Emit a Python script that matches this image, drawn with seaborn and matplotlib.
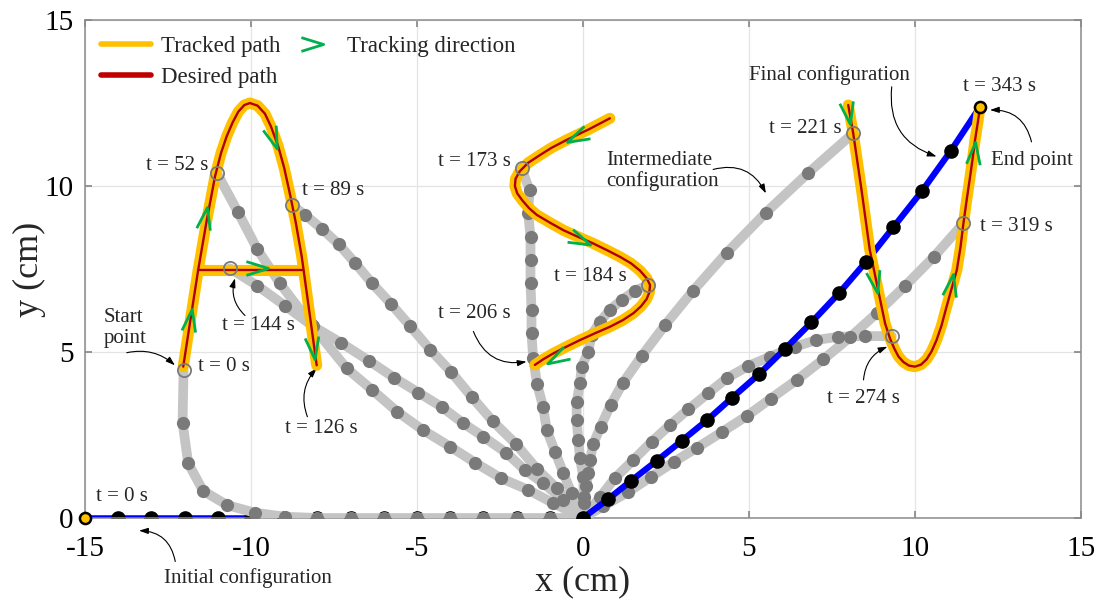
import matplotlib
matplotlib.use('Agg')
import matplotlib.pyplot as plt
import seaborn as sns
from matplotlib.path import Path
from matplotlib.markers import MarkerStyle
from matplotlib.transforms import Affine2D
from matplotlib.lines import Line2D

# ---------------- data (cm) ----------------
# Desired / tracked paths
A_X = [-12.04, -11.84, -11.59, -11.33, -11.08, -10.9, -10.73, -10.55, -10.38, -10.2, -10.03, -9.8, -9.58, -9.4, -9.18, -9.0, -8.83, -8.65, -8.47, -8.22, -8.02]
A_Y = [4.56, 5.86, 7.47, 8.98, 10.3, 11.0, 11.5, 11.92, 12.24, 12.44, 12.5, 12.42, 12.18, 11.8, 11.2, 10.55, 9.78, 8.9, 7.87, 6.06, 4.6]
BAR_X = [-11.59, -8.47]
BAR_Y = [7.47, 7.47]
S_X = [0.81, 0.2, -0.49, -0.95, -1.3, -1.65, -1.9, -2.03, -2.05, -1.98, -1.82, -1.62, -1.39, -1.0, -0.59, -0.15, 0.31, 0.72, 1.11, 1.45, 1.72, 1.92, 2.02, 2.0, 1.92, 1.75, 1.52, 1.2, 0.81, 0.35, -0.09, -0.5, -0.89, -1.2, -1.45]
S_Y = [12.04, 11.72, 11.39, 11.15, 10.93, 10.7, 10.45, 10.22, 10.0, 9.78, 9.56, 9.33, 9.13, 8.9, 8.67, 8.47, 8.27, 8.07, 7.87, 7.67, 7.45, 7.22, 7.02, 6.8, 6.6, 6.38, 6.17, 5.96, 5.76, 5.56, 5.36, 5.16, 4.96, 4.78, 4.61]
V_X = [7.99, 8.14, 8.39, 8.64, 8.89, 9.1, 9.25, 9.38, 9.5, 9.65, 9.82, 10.0, 10.18, 10.35, 10.5, 10.65, 10.8, 10.95, 11.1, 11.26, 11.37, 11.46, 11.56, 11.66, 11.74, 11.81, 11.89, 11.96]
V_Y = [12.44, 11.59, 9.88, 8.07, 6.87, 5.86, 5.4, 5.1, 4.87, 4.7, 4.59, 4.56, 4.62, 4.78, 5.02, 5.36, 5.8, 6.36, 6.9, 7.47, 8.15, 8.88, 9.6, 10.28, 10.85, 11.39, 11.9, 12.39]

# Robot configurations (tip first, base last)
INIT_X = [-15, -14, -13, -12, -11, -10, -9, -8, -7, -6, -5, -4, -3, -2, -1, 0]
INIT_Y = [0, 0, 0, 0, 0, 0, 0, 0, 0, 0, 0, 0, 0, 0, 0, 0]
FINAL_X = [11.96, 11.08, 10.22, 9.35, 8.51, 7.71, 6.88, 6.08, 5.3, 4.5, 3.74, 2.98, 2.23, 1.46, 0.76, 0]
FINAL_Y = [12.39, 11.06, 9.86, 8.76, 7.70, 6.77, 5.89, 5.09, 4.33, 3.63, 2.95, 2.33, 1.73, 1.13, 0.57, 0]

T0_X = [-12.03, -12.06, -11.89, -11.44, -10.72, -9.88, -8.98, -8.0, -7.0, -6.0, -5.0, -4.0, -3.0, -2.0, -1.0, 0.0]
T0_Y = [4.46, 2.87, 1.65, 0.82, 0.39, 0.16, 0.04, 0.0, 0.0, 0.0, 0.0, 0.0, 0.0, 0.0, 0.0, 0.0]
T52_X = [-11.03, -10.40, -9.81, -9.13, -8.17, -7.12, -6.35, -5.59, -4.82, -4.0, -3.25, -2.47, -1.65, -0.9, 0]
T52_Y = [10.40, 9.23, 8.10, 7.07, 5.81, 4.51, 3.86, 3.2, 2.65, 2.15, 1.67, 1.2, 0.85, 0.45, 0]
T89_X = [-8.77, -8.37, -7.85, -7.35, -6.87, -6.35, -5.78, -5.21, -4.6, -3.98, -3.35, -2.72, -2.02, -1.39, -0.79, 0]
T89_Y = [9.43, 9.13, 8.7, 8.24, 7.69, 7.07, 6.45, 5.79, 5.07, 4.41, 3.65, 2.92, 2.23, 1.48, 0.9, 0]
T144_X = [-10.63, -9.81, -8.98, -8.12, -7.29, -6.45, -5.69, -4.96, -4.26, -3.6, -3.0, -2.32, -1.75, -1.2, -0.59, 0]
T144_Y = [7.52, 7.0, 6.4, 5.77, 5.28, 4.74, 4.23, 3.78, 3.35, 2.85, 2.45, 1.97, 1.45, 1.05, 0.54, 0]
T173_X = [-1.85, -1.61, -1.65, -1.58, -1.58, -1.58, -1.55, -1.55, -1.5, -1.38, -1.2, -1.09, -0.84, -0.59, -0.34, 0]
T173_Y = [10.53, 9.88, 9.18, 8.47, 7.77, 7.07, 6.27, 5.56, 4.81, 4.03, 3.35, 2.65, 2.0, 1.35, 0.74, 0]
T184_X = [1.97, 1.57, 1.17, 0.81, 0.51, 0.26, 0.16, -0.04, -0.09, -0.19, -0.19, -0.14, -0.09, 0.01, 0.02, 0]
T184_Y = [7.02, 6.85, 6.57, 6.27, 5.91, 5.51, 5.01, 4.56, 4.06, 3.5, 2.95, 2.35, 1.8, 1.24, 0.62, 0]
T221_X = [8.14, 6.79, 5.51, 4.33, 3.32, 2.47, 1.77, 1.21, 0.83, 0.53, 0.31, 0.21, 0.16, 0.1, 0.03, 0]
T221_Y = [11.59, 10.4, 9.2, 7.99, 6.85, 5.81, 4.88, 4.08, 3.4, 2.75, 2.23, 1.75, 1.35, 0.95, 0.45, 0]
T274_X = [9.3, 8.49, 7.69, 7.02, 6.39, 5.63, 4.98, 4.33, 3.77, 3.17, 2.62, 2.07, 1.52, 0.96, 0.51, 0]
T274_Y = [5.48, 5.48, 5.46, 5.36, 5.16, 4.86, 4.58, 4.21, 3.76, 3.27, 2.8, 2.3, 1.75, 1.2, 0.62, 0]
T319_X = [11.46, 10.57, 9.7, 8.85, 8.04, 7.24, 6.44, 5.66, 4.93, 4.2, 3.44, 2.75, 2.05, 1.37, 0.6, 0]
T319_Y = [8.88, 7.87, 6.99, 6.17, 5.44, 4.78, 4.16, 3.6, 3.07, 2.6, 2.12, 1.7, 1.24, 0.79, 0.35, 0]

# tracking direction chevrons: x, y, angle (deg)
ARROW_X = [-11.85, -11.39, -9.33, -8.12, -9.83, -0.19, -0.09, -0.79, 7.99, 8.8, 11.1, 11.78]
ARROW_Y = [5.95, 9.03, 11.44, 5.11, 7.52, 11.49, 8.37, 4.81, 12.19, 7.12, 7.02, 10.99]
ARROW_ANG = [81, 80, -70, -82, 0, 206, -24, 209, -80, -78, 80, 84]

# ---------------- style ----------------
sns.set_theme(style='white')
plt.rcParams['font.family'] = ['Liberation Serif', 'DejaVu Serif']
plt.rcParams['axes.unicode_minus'] = False

YELLOW = '#ffc000'
RED = '#b00000'
GREEN = '#00b050'
GRAY_LINE = '#c4c4c4'
GRAY_DOT = '#7a7a7a'
BLUE = '#0000ff'

fig = plt.figure(figsize=(10.99, 6.02), dpi=100)
ax = fig.add_axes([0.0773, 0.1395, 0.9063, 0.8272])
ax.set_xlim(-15, 15)
ax.set_ylim(0, 15)
ax.set_xticks([-15, -10, -5, 0, 5, 10, 15])
ax.set_yticks([0, 5, 10, 15])
ax.grid(True, color='#e4e4e4', lw=0.9)
ax.set_axisbelow(True)
for s in ax.spines.values():
    s.set_color('#8a8a8a')
    s.set_linewidth(1.1)
ax.tick_params(direction='in', length=5, color='#8a8a8a', labelsize=21,
               labelcolor='black', top=True, right=True, pad=8,
               bottom=True, left=True)
ax.tick_params(axis='x', pad=13)
ax.set_xlabel('x (cm)', fontsize=26, labelpad=2)
ax.set_ylabel('y (cm)', fontsize=26, labelpad=-1)


def line(xs, ys, **kw):
    sns.lineplot(x=xs, y=ys, sort=False, estimator=None, ax=ax, legend=False, **kw)


# initial configuration (blue)
line(INIT_X, INIT_Y, color=BLUE, lw=4, zorder=2)
ax.plot(INIT_X[1:], INIT_Y[1:], 'o', ms=9.5, color='black', zorder=2.1)

# intermediate configurations (gray)
configs = [(T0_X, T0_Y), (T52_X, T52_Y), (T89_X, T89_Y), (T144_X, T144_Y),
           (T173_X, T173_Y), (T184_X, T184_Y), (T221_X, T221_Y),
           (T274_X, T274_Y), (T319_X, T319_Y)]
for xs, ys in configs:
    line(xs, ys, color=GRAY_LINE, lw=7, zorder=3, solid_capstyle='round')
    ax.plot(xs[1:], ys[1:], 'o', ms=9.5, color=GRAY_DOT, mec='none', zorder=3.2)
tips_x = [c[0][0] for c in configs]
tips_y = [c[1][0] for c in configs]

# final configuration (blue)
line(FINAL_X, FINAL_Y, color=BLUE, lw=4.5, zorder=4)

# paths
for xs, ys in [(A_X, A_Y), (BAR_X, BAR_Y), (S_X, S_Y), (V_X, V_Y)]:
    line(xs, ys, color=YELLOW, lw=8, zorder=5, solid_capstyle='round',
         solid_joinstyle='round')
for xs, ys in [(A_X, A_Y), (BAR_X, BAR_Y), (S_X, S_Y), (V_X, V_Y)]:
    line(xs, ys, color=RED, lw=1.7, zorder=5.5, solid_joinstyle='round')

ax.plot(FINAL_X[1:], FINAL_Y[1:], 'o', ms=9.5, color='black', zorder=6)
ax.plot(tips_x, tips_y, 'o', ms=9.5, mfc='none', mec=GRAY_DOT, mew=1.3, zorder=6)
ax.plot([INIT_X[0], FINAL_X[0]], [INIT_Y[0], FINAL_Y[0]], 'o', ms=8,
        mfc=YELLOW, mec='black', mew=1.8, zorder=7, clip_on=False)

# chevrons
chev = Path([(-1.0, 0.62), (1.0, 0.0), (-1.0, -0.62)],
            [Path.MOVETO, Path.LINETO, Path.LINETO])
for x, y, a in zip(ARROW_X, ARROW_Y, ARROW_ANG):
    m = MarkerStyle(chev, fillstyle='none', transform=Affine2D().rotate_deg(a))
    ax.plot([x], [y], marker=m, ms=16, mec=GREEN, mfc='none', mew=2.0,
            ls='none', zorder=8)

# ---------------- annotations ----------------
FS = 15
ap = dict(arrowstyle='-|>,head_length=0.45,head_width=0.15', color='black',
          lw=0.8, shrinkA=0, shrinkB=0)


def note(text, xy_text, ha='center'):
    ax.text(xy_text[0], xy_text[1], text, fontsize=FS, ha=ha, va='center',
            zorder=9, clip_on=False)


def arrow(xy_from, xy_to, rad):
    ax.annotate('', xy=xy_to, xytext=xy_from, annotation_clip=False,
                arrowprops=dict(ap, connectionstyle=f'arc3,rad={rad}'))


ax.text(-14.43, 5.72, 'Start\npoint', fontsize=FS, ha='left', va='center', linespacing=1.15)
arrow((-13.74, 4.98), (-12.29, 4.6), -0.25)
note('t = 0 s', (-11.59, 4.56), ha='left')
note('t = 52 s', (-12.22, 10.63))
note('t = 89 s', (-8.47, 9.88), ha='left')
note('t = 144 s', (-9.78, 5.81))
arrow((-10.18, 6.1), (-10.48, 7.22), -0.3)
note('t = 126 s', (-7.87, 2.7))
arrow((-8.3, 3.05), (-8.02, 4.51), -0.3)
note('t = 173 s', (-3.28, 10.73))
note('t = 184 s', (0.21, 7.27))
note('t = 206 s', (-3.28, 6.17))
arrow((-3.3, 5.62), (-1.7, 4.71), 0.4)
ax.text(0.71, 10.46, 'Intermediate\nconfiguration', fontsize=FS, ha='left',
        va='center', linespacing=1.1)
arrow((3.92, 10.5), (5.51, 9.78), -0.4)
note('Final configuration', (7.43, 13.34))
arrow((9.3, 12.99), (10.65, 10.89), 0.4)
note('t = 221 s', (6.71, 11.72))
note('t = 343 s', (12.56, 12.99))
note('End point', (13.51, 10.78))
arrow((13.51, 11.33), (12.26, 12.29), 0.4)
note('t = 319 s', (13.04, 8.77))
note('t = 274 s', (8.45, 3.6))
arrow((8.45, 4.16), (9.17, 5.16), -0.3)
note('t = 0 s', (-13.89, 0.64))
note('Initial configuration', (-10.1, -1.81))
arrow((-12.28, -1.31), (-13.37, -0.38), 0.4)

# ---------------- legend ----------------
chev_leg = MarkerStyle(chev, fillstyle='none')
handles = [Line2D([], [], color=YELLOW, lw=4),
           Line2D([], [], color='#c00000', lw=4),
           Line2D([], [], ls='none', marker=chev_leg, ms=16, mec=GREEN, mew=2.0)]
labels = ['Tracked path', 'Desired path', 'Tracking direction']
leg = ax.legend(handles, labels, loc='upper left', bbox_to_anchor=(0.0, 1.0),
                ncol=2, frameon=False, fontsize=16.5, handlelength=2.2,
                handletextpad=0.4, columnspacing=0.3, borderaxespad=0.3,
                labelspacing=0.45)
leg.set_zorder(10)

fig.savefig('out.png', dpi=100)
